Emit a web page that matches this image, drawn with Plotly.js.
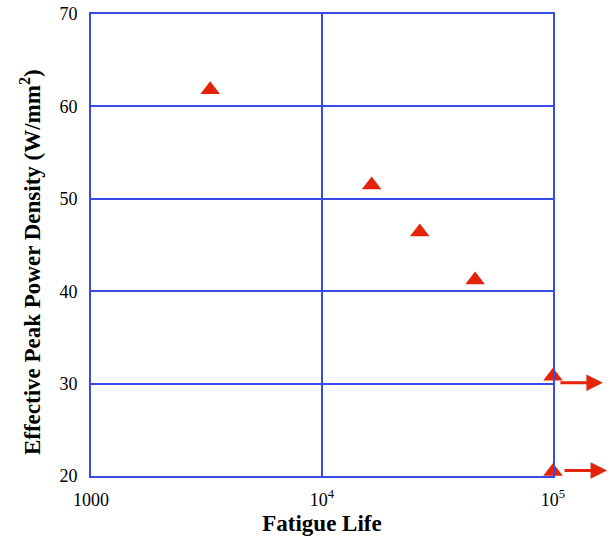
<!DOCTYPE html>
<html>
<head>
<meta charset="utf-8">
<script src="https://cdn.plot.ly/plotly-3.0.1.min.js"></script>
<style>html,body{margin:0;padding:0;background:#fff;}#chart{width:614px;height:538px;}</style>
</head>
<body>
<div id="chart"></div>
<script>
// Data
const fatigueLife = [3280, 16400, 26500, 46000, 100000, 100000];
const peakPowerDensity = [61.8, 51.5, 46.4, 41.2, 30.8, 20.5];
// Run-out arrows (specimens that did not fail), y-values
const runoutY = [30.1, 20.6];
const xTickVals = [1000, 10000, 100000];
const xTickText = ['1000', '10<sup>4</sup>', '10<sup>5</sup>'];
const yTickVals = [20, 30, 40, 50, 60, 70];

const red = 'rgb(228,36,10)';
const blue = 'rgb(55,75,230)';
const serif = 'Liberation Serif, Times New Roman, serif';

const trace = {
  x: fatigueLife, y: peakPowerDensity,
  type: 'scatter', mode: 'markers',
  marker: {symbol: 'triangle-up', size: 17, color: red, line: {width: 0}},
  cliponaxis: false, showlegend: false
};

const arrowHeadX = [1.108, 1.117];
const annotations = runoutY.map((yv, i) => ({
  xref: 'paper', yref: 'y', x: arrowHeadX[i], y: yv,
  ax: -44, ay: 0, text: '', showarrow: true,
  arrowhead: 2, arrowsize: 1.1, arrowwidth: 3, arrowcolor: red
}));
annotations.push({
  xref: 'paper', yref: 'paper', x: -0.132, y: 0.463,
  xanchor: 'center', yanchor: 'middle', textangle: -90, showarrow: false,
  text: '<b>Effective Peak Power Density (W/mm<sup>2</sup>)</b>',
  font: {family: serif, size: 23, color: '#000'}
});

const layout = {
  width: 614, height: 538,
  margin: {l: 91, r: 61, t: 14, b: 62},
  paper_bgcolor: '#fff', plot_bgcolor: '#fff',
  font: {family: serif, color: '#000', size: 18},
  xaxis: {
    type: 'log', range: [3, 5],
    tickvals: xTickVals, ticktext: xTickText,
    showgrid: true, gridcolor: blue, gridwidth: 2,
    showline: true, linecolor: blue, linewidth: 2, mirror: true,
    ticks: 'outside', ticklen: 6, tickcolor: 'rgba(0,0,0,0)', zeroline: false,
    tickfont: {family: serif, size: 18, color: '#000'},
    title: {text: '<b>Fatigue Life</b>', font: {family: serif, size: 23, color: '#000'}, standoff: 6}
  },
  yaxis: {
    range: [20, 70], tickvals: yTickVals,
    showgrid: true, gridcolor: blue, gridwidth: 2,
    showline: true, linecolor: blue, linewidth: 2, mirror: true,
    ticks: 'outside', ticklen: 8, tickcolor: 'rgba(0,0,0,0)', zeroline: false,
    tickfont: {family: serif, size: 18, color: '#000'}
  },
  annotations: annotations
};

Plotly.newPlot('chart', [trace], layout, {displayModeBar: false, staticPlot: true});
</script>
</body>
</html>
